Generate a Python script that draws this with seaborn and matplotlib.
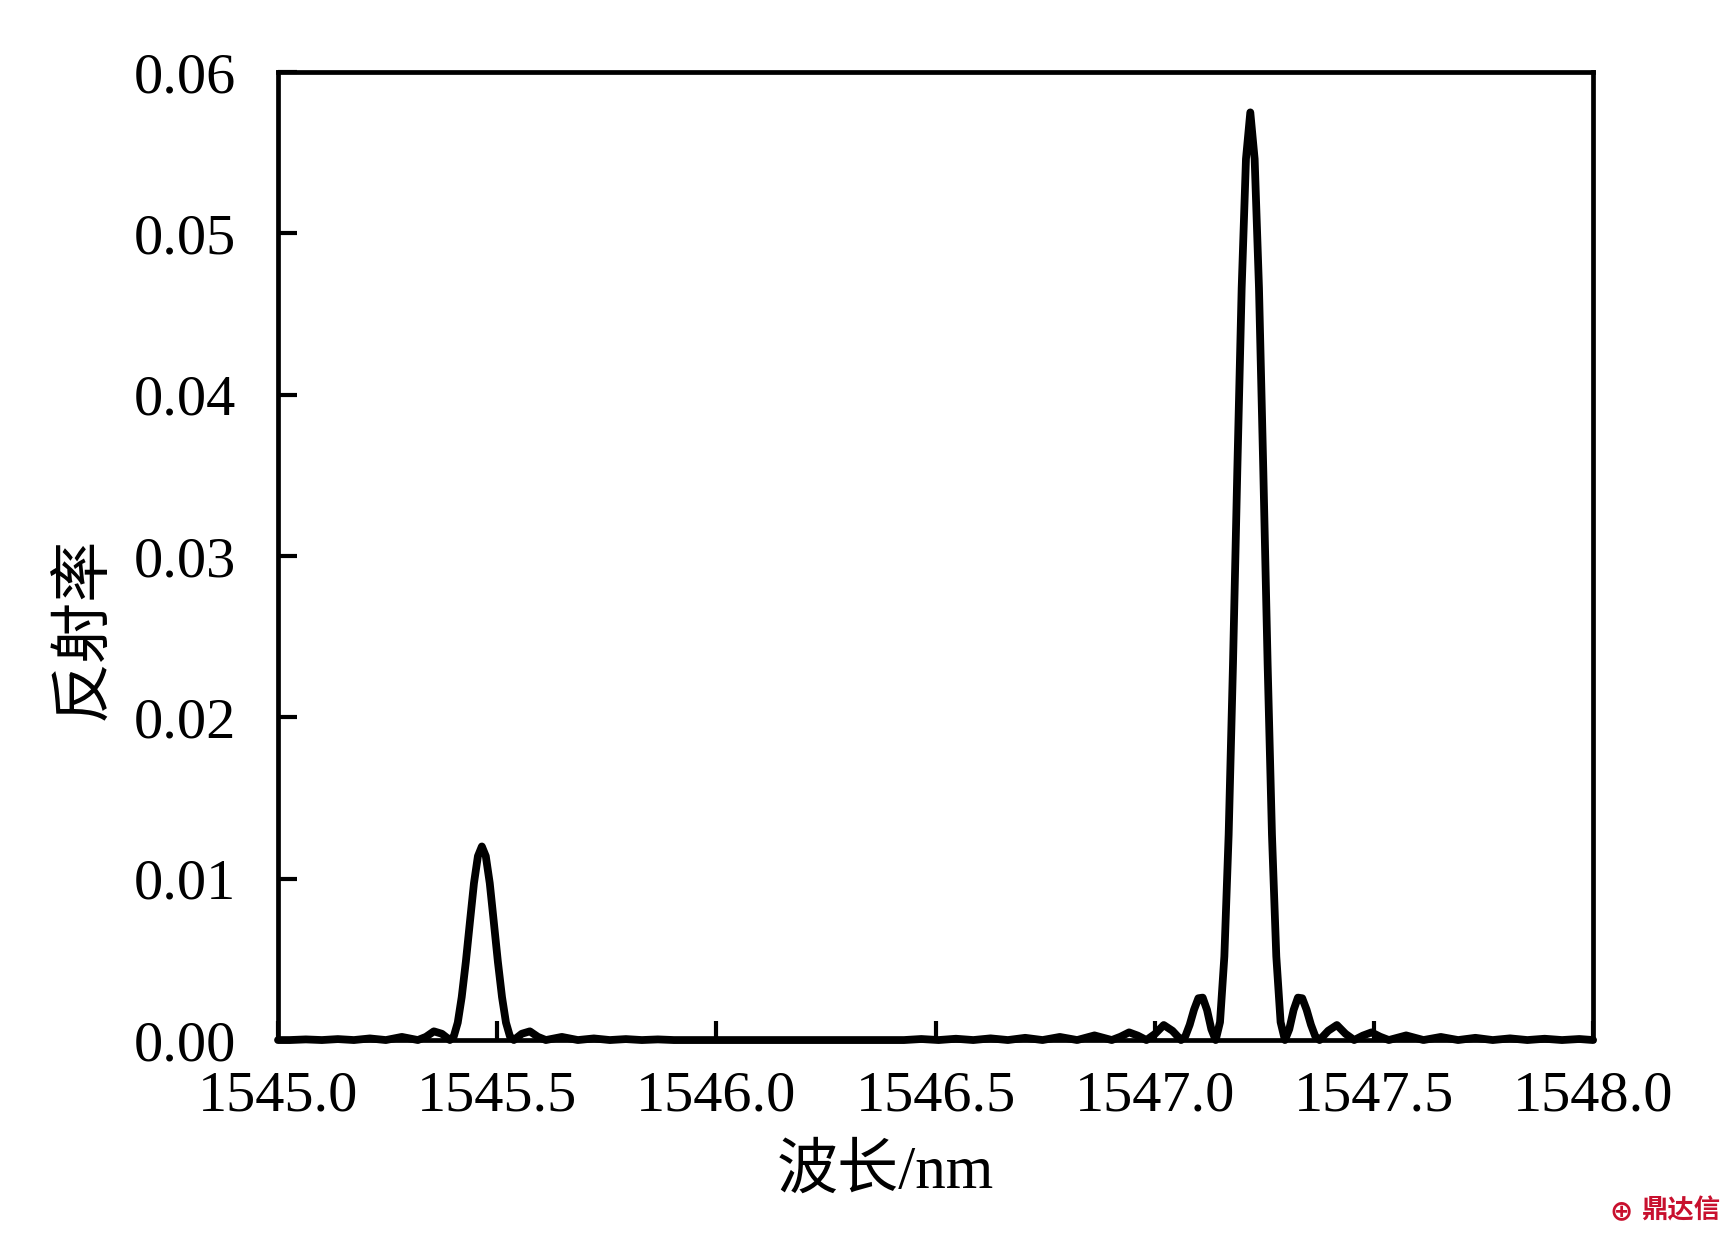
import numpy as np
import pandas as pd
import matplotlib
matplotlib.use("Agg")
import matplotlib.pyplot as plt
import seaborn as sns
from matplotlib.ticker import FormatStrFormatter

# --- дані ---
# ліва (слабка) смуга відбиття
left_wl = [1545.000, 1545.027, 1545.0635, 1545.100, 1545.1365, 1545.173, 1545.2095,
           1545.246, 1545.2825, 1545.319, 1545.3373, 1545.3555, 1545.3738, 1545.392,
           1545.401, 1545.410, 1545.419, 1545.4285, 1545.438, 1545.447, 1545.456,
           1545.465, 1545.474, 1545.483, 1545.492, 1545.5015, 1545.511, 1545.520,
           1545.529, 1545.538, 1545.556, 1545.5745, 1545.593, 1545.611, 1545.6475,
           1545.684, 1545.7205, 1545.757, 1545.7935, 1545.830, 1545.8665, 1545.903,
           1546.200]
left_r = [0.0, 0.0, 0.00004, 0.0, 0.00006, 0.0, 0.0001,
          0.0, 0.000195, 0.0, 0.000198, 0.00054, 0.000389, 0.0,
          0.000233, 0.001081, 0.002657, 0.004864, 0.00738, 0.009727, 0.011396,
          0.0120, 0.011396, 0.009727, 0.00738, 0.004864, 0.002657, 0.001081,
          0.000233, 0.0, 0.000389, 0.00054, 0.000198, 0.0, 0.000195,
          0.0, 0.0001, 0.0, 0.00006, 0.0, 0.00004, 0.0,
          0.0]

# права (основна) смуга відбиття
main_wl = [1546.428, 1546.4675, 1546.507, 1546.5465, 1546.586, 1546.6255, 1546.665,
           1546.7045, 1546.744, 1546.7835, 1546.823, 1546.8625, 1546.902, 1546.9218,
           1546.9415, 1546.9613, 1546.981, 1547.0008, 1547.0205, 1547.0403, 1547.060,
           1547.0699, 1547.0798, 1547.0896, 1547.0995, 1547.1094, 1547.1193, 1547.1291,
           1547.139, 1547.1489, 1547.1588, 1547.1686, 1547.1785, 1547.1884, 1547.1983,
           1547.2081, 1547.218, 1547.2279, 1547.2378, 1547.2476, 1547.2575, 1547.2674,
           1547.2773, 1547.2871, 1547.297, 1547.3069, 1547.3168, 1547.3266, 1547.3365,
           1547.3464, 1547.3563, 1547.3661, 1547.376, 1547.3958, 1547.4155, 1547.4353,
           1547.455, 1547.4748, 1547.4945, 1547.5143, 1547.534, 1547.5735, 1547.613,
           1547.6525, 1547.692, 1547.7315, 1547.771, 1547.8105, 1547.850, 1547.8895,
           1547.929, 1547.9685, 1548.000]
main_r = [0.0, 0.0000645, 0.0, 0.0000807, 0.0, 0.000104, 0.0,
          0.000138, 0.0, 0.000193, 0.0, 0.000288, 0.0, 0.000207,
          0.000476, 0.000276, 0.0, 0.000385, 0.000932, 0.000576, 0.0,
          0.000243, 0.000951, 0.00188, 0.00259, 0.00263, 0.001864, 0.000674,
          0.0, 0.00111, 0.00518, 0.01273, 0.0233, 0.03536, 0.04661,
          0.05461, 0.0575, 0.05461, 0.04661, 0.03536, 0.0233, 0.01273,
          0.00518, 0.00111, 0.0, 0.000674, 0.001864, 0.00263, 0.00259,
          0.00188, 0.000951, 0.000243, 0.0, 0.000576, 0.000932, 0.000385,
          0.0, 0.000276, 0.000476, 0.000207, 0.0, 0.000288, 0.0,
          0.000193, 0.0, 0.000138, 0.0, 0.000104, 0.0, 0.0000807,
          0.0, 0.0000645, 0.0]

x_ticks = [1545.0, 1545.5, 1546.0, 1546.5, 1547.0, 1547.5, 1548.0]
y_ticks = [0.00, 0.01, 0.02, 0.03, 0.04, 0.05, 0.06]

df = pd.DataFrame({
    "wl": left_wl + main_wl,
    "r": left_r + main_r,
})

# --- стиль ---
sns.set_style("ticks")
plt.rcParams["font.family"] = ["Liberation Serif", "Noto Sans CJK SC"]
plt.rcParams["axes.linewidth"] = 3.4
plt.rcParams["text.color"] = "black"
plt.rcParams["axes.labelcolor"] = "black"
plt.rcParams["xtick.color"] = "black"
plt.rcParams["ytick.color"] = "black"

fig = plt.figure(figsize=(17.29, 12.42), dpi=100)
ax = fig.add_axes([0.1608, 0.1626, 0.7606, 0.7794])

sns.lineplot(data=df, x="wl", y="r", sort=False, color="black",
             linewidth=5.6, ax=ax, clip_on=False,
             solid_joinstyle="round", solid_capstyle="round")

ax.set_xlim(1545.0, 1548.0)
ax.set_ylim(0, 0.06)
ax.set_xticks(x_ticks)
ax.set_yticks(y_ticks)
ax.xaxis.set_major_formatter(FormatStrFormatter("%.1f"))
ax.yaxis.set_major_formatter(FormatStrFormatter("%.2f"))
ax.tick_params(axis="both", which="major", direction="in", length=14, width=3,
               labelsize=42, top=False, right=False, colors="black")
ax.tick_params(axis="x", pad=22)
ax.tick_params(axis="y", pad=30)
for s in ax.spines.values():
    s.set_color("black")

ax.set_xlabel("波长/nm", fontsize=44)
ax.xaxis.set_label_coords(0.4616, -0.108)
ax.set_ylabel("反射率", fontsize=44)
ax.yaxis.set_label_coords(-0.125, 0.4256)

# водяний знак
fig.text(0.9445, 0.0135, "⊕", color="#c8102e", fontsize=20, fontweight="bold",
         ha="right", va="bottom", family=["DejaVu Sans"])
fig.text(0.995, 0.014, "鼎达信", color="#c8102e", fontsize=19, fontweight="bold",
         ha="right", va="bottom", family=["Noto Sans CJK SC", "DejaVu Sans"])

fig.savefig("out.png", dpi=100)
